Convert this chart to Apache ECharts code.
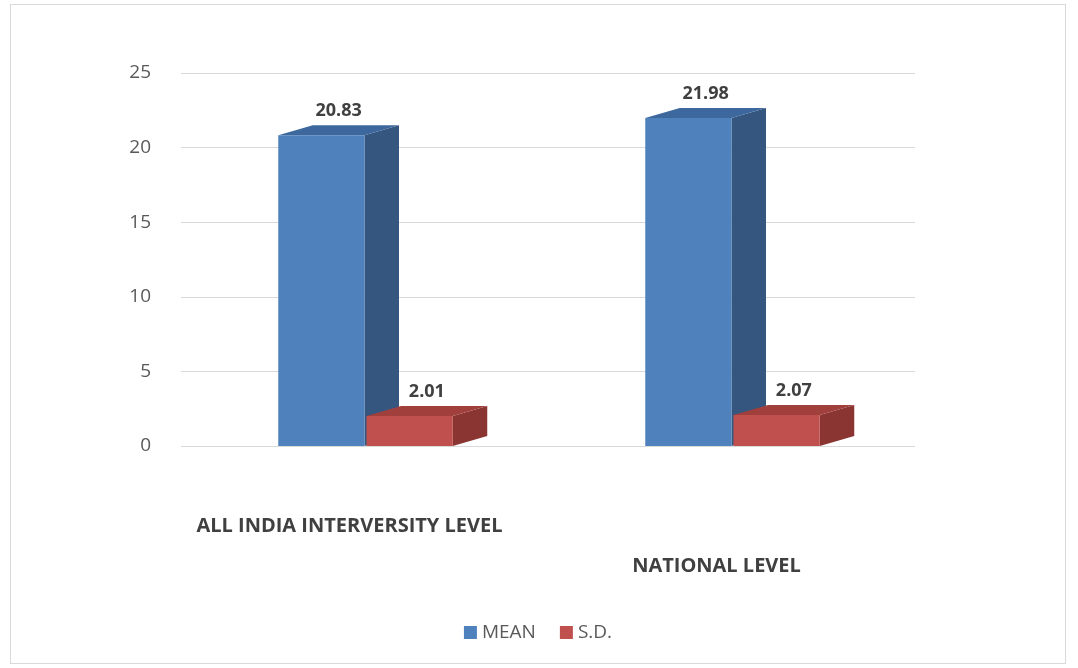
<!DOCTYPE html>
<html><head><meta charset="utf-8">
<script src="https://cdn.jsdelivr.net/npm/echarts@6/dist/echarts.min.js"></script>
<style>
html,body{margin:0;padding:0;background:#fff;}
#c{position:absolute;left:10px;top:4px;width:1056px;height:660px;border:1px solid #d9d9d9;box-sizing:border-box;}
</style></head>
<body><div id="c"></div>
<script>
const categories = ['ALL INDIA INTERVERSITY LEVEL', 'NATIONAL LEVEL'];
const meanValues = [20.83, 21.98];
const sdValues = [2.01, 2.07];
const yTicks = [0, 5, 10, 15, 20, 25];

const chart = echarts.init(document.getElementById('c'));

function make3d(side, front, sideColor, topColor) {
  return function (params, api) {
    const idx = api.value(0);
    const val = api.value(1);
    const band = api.size([1, 0])[0];
    const w = band * 0.235;
    const dx = w * 0.4, dy = -10;
    const center = api.coord([idx, 0]);
    const top = api.coord([idx, val]);
    const x0 = side === 0 ? center[0] - w : center[0] + 2;
    const x1 = x0 + w;
    const yb = center[1], yt = top[1];
    return {
      type: 'group',
      children: [
        { type: 'polygon', shape: { points: [[x1, yt], [x1 + dx, yt + dy], [x1 + dx, yb + dy], [x1, yb]] }, style: { fill: sideColor } },
        { type: 'polygon', shape: { points: [[x0, yt], [x0 + dx, yt + dy], [x1 + dx, yt + dy], [x1, yt]] }, style: { fill: topColor } },
        { type: 'rect', shape: { x: x0, y: yt, width: w, height: yb - yt }, style: { fill: front } },
        { type: 'text', style: { text: val.toFixed(2), x: x0 + w * 0.5 + dx * 0.5, y: yt + dy - 5, align: 'center', verticalAlign: 'bottom', fill: '#404040', font: 'bold 18px "Open Sans", sans-serif' } }
      ]
    };
  };
}

chart.setOption({
  animation: false,
  grid: { left: 170, right: 150, top: 68, bottom: 217 },
  legend: {
    bottom: 16, left: 'center', itemWidth: 13, itemHeight: 13, itemGap: 24, icon: 'rect',
    textStyle: { color: '#595959', fontSize: 19, fontFamily: '"Open Sans", sans-serif' },
    data: ['MEAN', 'S.D.']
  },
  xAxis: {
    type: 'category', data: categories,
    axisLine: { show: false }, axisTick: { show: false },
    axisLabel: {
      interval: 0, margin: 70,
      formatter: (v, i) => i === 0 ? '{a|' + v + '}' : '{b|' + v + '}',
      rich: {
        a: { fontWeight: 'bold', fontSize: 20, color: '#404040', fontFamily: '"Open Sans", sans-serif', padding: [0, 30, 0, 0] },
        b: { fontWeight: 'bold', fontSize: 20, color: '#404040', fontFamily: '"Open Sans", sans-serif', padding: [40, 30, 0, 0] }
      }
    }
  },
  yAxis: {
    type: 'value', min: yTicks[0], max: yTicks[yTicks.length - 1], interval: 5,
    axisLine: { show: false }, axisTick: { show: false },
    axisLabel: { color: '#595959', fontSize: 19, margin: 30, fontFamily: '"Open Sans", sans-serif' },
    splitLine: { lineStyle: { color: '#d9d9d9', width: 1 } }
  },
  series: [
    { name: 'MEAN', type: 'custom', itemStyle: { color: '#4f81bd' }, encode: { x: 0, y: 1 },
      data: meanValues.map((v, i) => [i, v]), renderItem: make3d(0, '#4f81bd', '#34567f', '#3d689e') },
    { name: 'S.D.', type: 'custom', itemStyle: { color: '#c0504d' }, encode: { x: 0, y: 1 },
      data: sdValues.map((v, i) => [i, v]), renderItem: make3d(1, '#c0504d', '#8b3532', '#a03f3c') }
  ]
});
</script></body></html>
